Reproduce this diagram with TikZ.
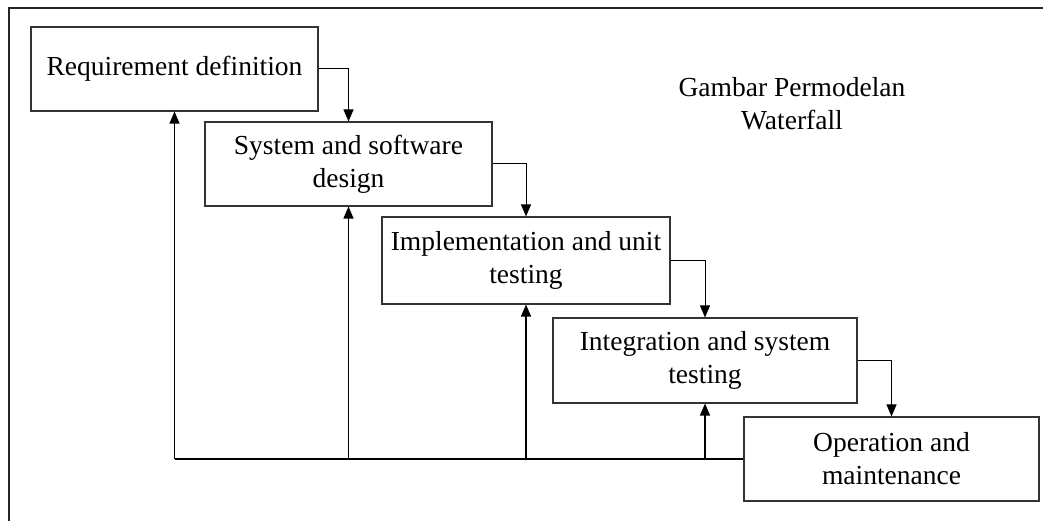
\documentclass[tikz,border=0pt]{standalone}
\usepackage{fontspec}
\setmainfont{Liberation Serif}
\usetikzlibrary{arrows.meta}
\begin{document}
\begin{tikzpicture}[x=1pt,y=-1pt,
  stage/.style={draw=black!80,line width=1.1pt,fill=white,inner sep=0pt,
    align=center,font=\fontsize{27.5}{33}\selectfont},
  flow/.style={line width=1pt,-{Triangle[length=12pt,width=10pt]}},
  back/.style={line width=1.2pt,-{Triangle[length=12pt,width=10pt]}},
  frame/.style={line width=1.6pt,draw=black!85}]
  \useasboundingbox (0,0) rectangle (1043,521);
  % outer frame (top and left edges)
  \coordinate (fl) at (9,521);
  \coordinate (fc) at (9,8);
  \coordinate (fr) at (1043,8);
  \draw[frame] (fl) -- (fc) -- (fr);
  % stages of the model
  \node[stage,minimum width=287pt,minimum height=84pt] (b1) at (174.5,69) {Requirement definition};
  \node[stage,minimum width=287pt,minimum height=84pt] (b2) at (348.5,164) {System and software\\design};
  \node[stage,minimum width=288pt,minimum height=87pt] (b3) at (526,260.5) {Implementation and unit\\testing};
  \node[stage,minimum width=304pt,minimum height=85pt] (b4) at (705,360.5) {Integration and system\\testing};
  \node[stage,minimum width=295pt,minimum height=84pt] (b5) at (891.5,459) {Operation and\\maintenance};
  % title
  \node[align=center,font=\fontsize{27.5}{33}\selectfont] (title) at (792,104) {Gambar Permodelan\\Waterfall};
  % forward flow
  \draw[flow] (b1.east) -| (b2.north);
  \draw[flow] (b2.east) -| (b3.north);
  \draw[flow] (b3.east) -| (b4.north);
  \draw[flow] (b4.east) -| (b5.north);
  % feedback line
  \coordinate (f1) at (b1.south |- b5.west);
  \coordinate (f2) at (b2.south |- b5.west);
  \coordinate (f3) at (b3.south |- b5.west);
  \coordinate (f4) at (b4.south |- b5.west);
  \draw[line width=1.2pt] (b5.west) -- (f1);
  \draw[back] (f1) -- (b1.south);
  \draw[back] (f2) -- (b2.south);
  \draw[back] (f3) -- (b3.south);
  \draw[back] (f4) -- (b4.south);
\end{tikzpicture}
\end{document}
